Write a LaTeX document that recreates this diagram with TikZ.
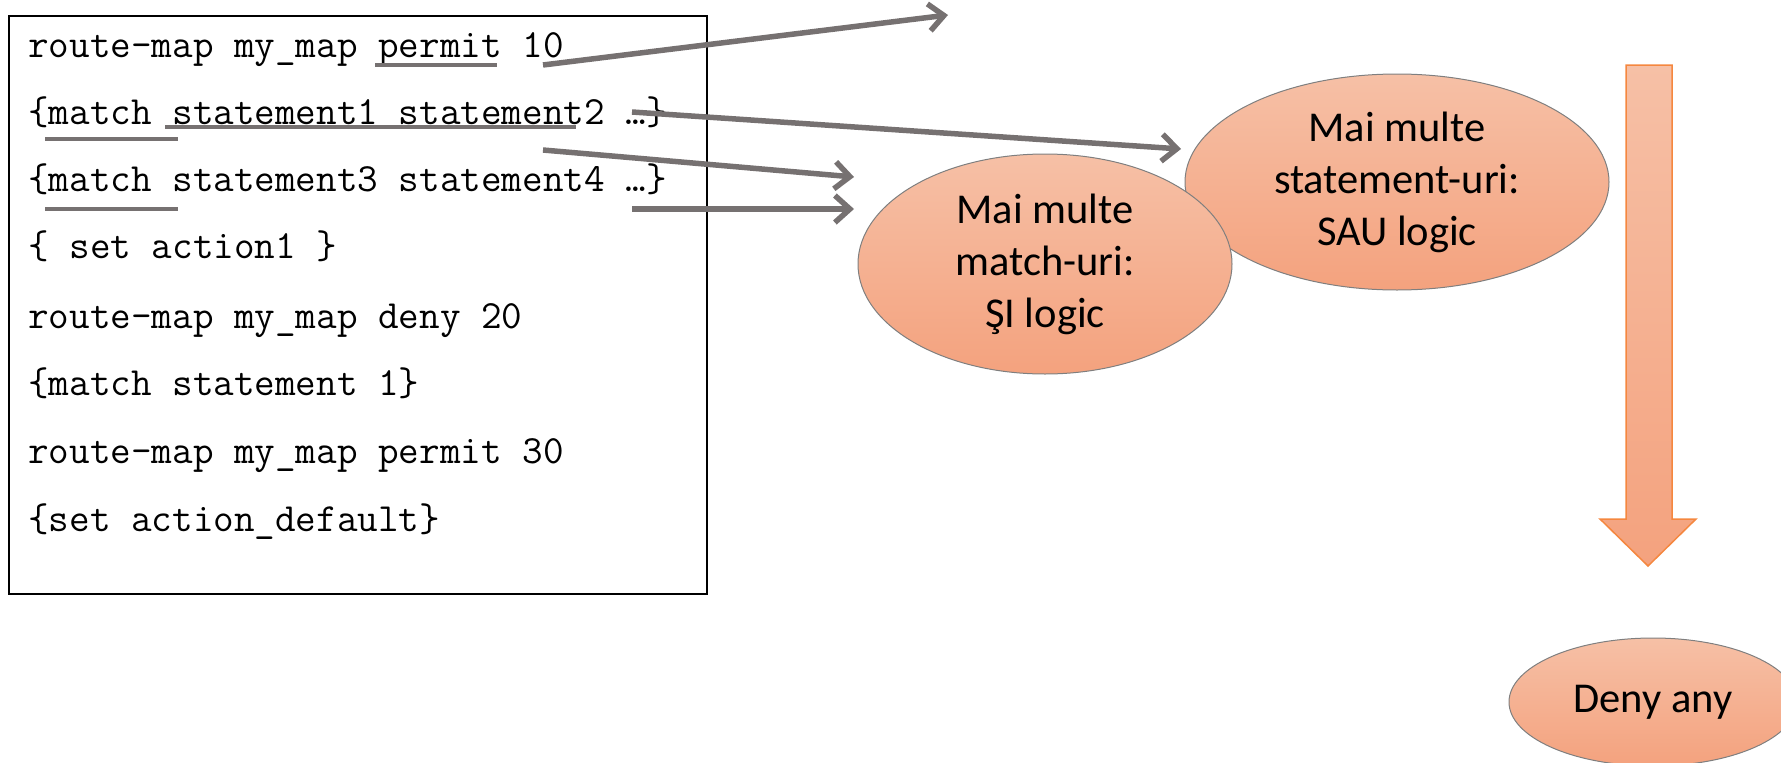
\documentclass[tikz,border=0pt]{standalone}
\usepackage{fontspec}
\setmainfont{Carlito}
\usetikzlibrary{shapes.geometric,arrows.meta}
\definecolor{arrowgray}{HTML}{767171}
\definecolor{salmontop}{HTML}{F6C0A6}
\definecolor{salmonbot}{HTML}{F4A27E}
\definecolor{orangeline}{HTML}{F5873F}
\definecolor{ellline}{HTML}{7F7F7F}
\begin{document}
\begin{tikzpicture}[x=1pt,y=-1pt,
  codeline/.style={anchor=base west, inner sep=0pt, font=\ttfamily\fontsize{40}{46}\selectfont, text=black},
  ulbar/.style={draw=arrowgray, line width=4.8pt},
  conn/.style={draw=arrowgray, line width=5.5pt, -{Straight Barb[length=15pt,width=27pt]}},
  bubble/.style={ellipse, draw=ellline, line width=1pt, top color=salmontop, bottom color=salmonbot, inner sep=0pt, align=center, font=\fontsize{42.5}{52}\selectfont, text=black},
  bigarrow/.style={draw=orangeline, line width=1.5pt, top color=salmontop, bottom color=salmonbot}]
\clip (0,0) rectangle (1781,763);
\useasboundingbox (0,0) rectangle (1781,763);

% code box
\node (codebox) [draw=black, line width=1.8pt, minimum width=698pt, minimum height=578pt, inner sep=0pt, anchor=north west] at (8,15) {};

\node (l1) [codeline] at (28,57) {route-map my\_map permit 10};
\node (l2) [codeline] at (28,124) {\{match statement1 statement2 …\}};
\node (l3) [codeline] at (28,191) {\{match statement3 statement4 …\}};
\node (l4) [codeline] at (28,258) {\{ set action1 \}};
\node (l5) [codeline] at (28,328) {route-map my\_map deny 20};
\node (l6) [codeline] at (28,395) {\{match statement 1\}};
\node (l7) [codeline] at (28,463) {route-map my\_map permit 30};
\node (l8) [codeline] at (28,531) {\{set action\_default\}};

% underline bars
\coordinate (u1a) at (375,65);  \coordinate (u1b) at (497,65);
\coordinate (u2a) at (45,139);  \coordinate (u2b) at (178,139);
\coordinate (u3a) at (165,127); \coordinate (u3b) at (576,127);
\coordinate (u4a) at (45,209);  \coordinate (u4b) at (178,209);
\draw[ulbar] (u1a) -- (u1b);
\draw[ulbar] (u2a) -- (u2b);
\draw[ulbar] (u3a) -- (u3b);
\draw[ulbar] (u4a) -- (u4b);

% bubbles
\node (sau) [bubble, minimum width=424pt, minimum height=216pt] at (1397,182) {Mai multe\\statement-uri:\\SAU logic};
\node (si) [bubble, minimum width=374pt, minimum height=220pt] at (1045,264) {Mai multe\\match-uri:\\ŞI logic};
\node (deny) [bubble, minimum width=288pt, minimum height=128pt] at (1653,702) {Deny any};

% big down arrow
\draw[bigarrow] (1626,65) -- (1672,65) -- (1672,519) -- (1696,519) -- (1648,566) -- (1600,519) -- (1626,519) -- cycle;

% connectors
\coordinate (a1s) at (543,65);  \coordinate (a1e) at (948,15);
\coordinate (a2s) at (632,112); \coordinate (a2e) at (1181,149);
\coordinate (a3s) at (543,150); \coordinate (a3e) at (854,177);
\coordinate (a4s) at (632,209); \coordinate (a4e) at (854,209);
\draw[conn] (a1s) -- (a1e);
\draw[conn] (a2s) -- (a2e);
\draw[conn] (a3s) -- (a3e);
\draw[conn] (a4s) -- (a4e);
\end{tikzpicture}
\end{document}
